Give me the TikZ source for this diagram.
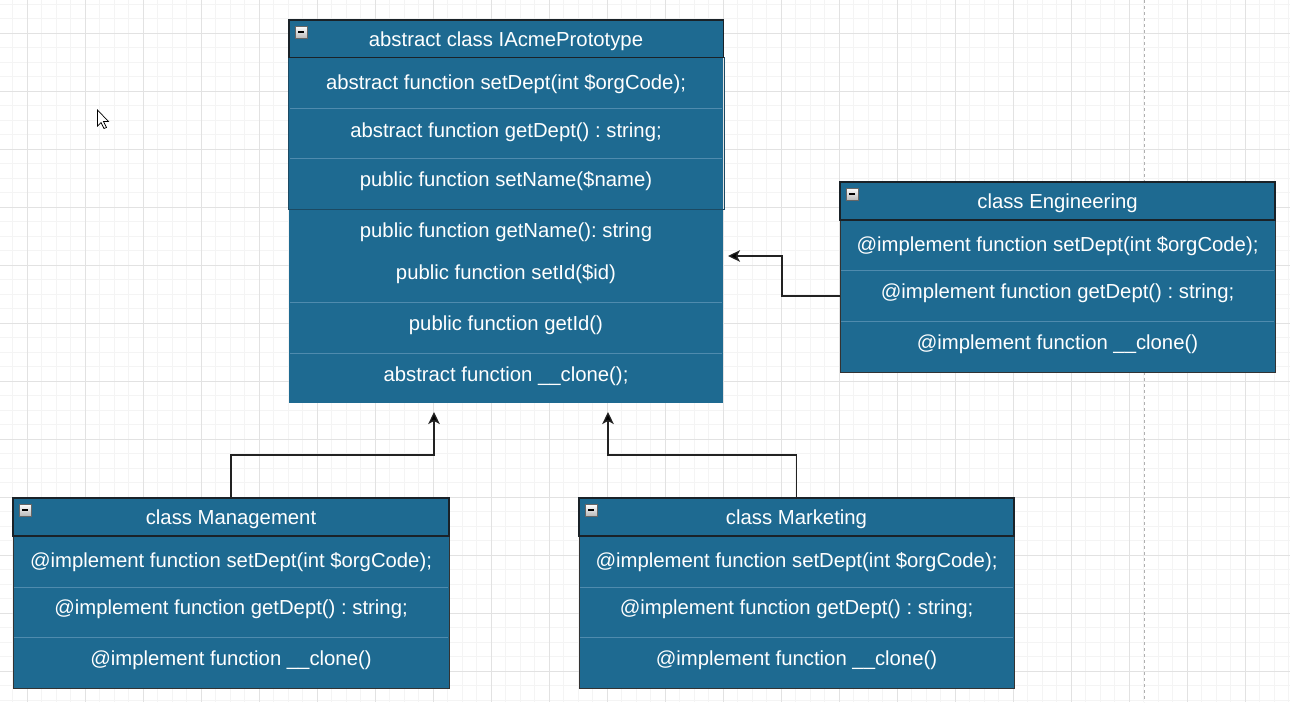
\documentclass[tikz,border=0pt]{standalone}
\usepackage{fontspec}
\setmainfont{Liberation Sans}
\usetikzlibrary{arrows.meta,calc}
\definecolor{boxblue}{HTML}{1E6A91}
\definecolor{seplt}{HTML}{4F8BAE}
\definecolor{hdrstroke}{HTML}{1A2228}
\definecolor{contstroke}{HTML}{1C4A63}
\definecolor{boxstroke}{HTML}{333333}
\definecolor{gridminor}{HTML}{F4F4F4}
\definecolor{gridmajor}{HTML}{E2E2E2}
\definecolor{connc}{HTML}{222222}
\definecolor{dashc}{HTML}{B0B0B0}
\frenchspacing
\begin{document}
\begin{tikzpicture}[x=1pt,y=-1pt,
  classbox/.style={fill=boxblue, anchor=north west, inner sep=0pt, outer sep=0pt},
  classframe/.style={draw=boxstroke, line width=1pt},
  hdrframe/.style={draw=hdrstroke, line width=1.3pt},
  txt/.style={text=white, font=\fontsize{20.3}{24}\selectfont, inner sep=0pt, yshift=-1.5pt},
  sepline/.style={draw=seplt, line width=0.8pt},
  conn/.style={draw=connc, line width=1.3pt, -{Stealth[length=12pt,width=11.5pt,inset=3pt,fill=black]}},
  collapse/.pic={
    \shade[top color=white, bottom color=gray!55, draw=gray!80!black, line width=0.5pt] (0,0) rectangle (12,12);
    \fill[black] (3,5.2) rectangle (9,7.2);
  }
]
\useasboundingbox (0,0) rectangle (1290,702);
\fill[white] (0,0) rectangle (1290,702);
% grid
\foreach \i in {0,...,88} \draw[gridminor, line width=0.8pt] ({12.8+14.5*\i},0) -- ++(0,702);
\foreach \i in {0,...,48} \draw[gridminor, line width=0.8pt] (0,{4.3+14.5*\i}) -- ++(1290,0);
\foreach \i in {0,...,21} \draw[gridmajor, line width=0.9pt] ({27.3+58*\i},0) -- ++(0,702);
\foreach \i in {0,...,11} \draw[gridmajor, line width=0.9pt] (0,{33.3+58*\i}) -- ++(1290,0);
\draw[dashc, line width=1pt, dash pattern=on 3pt off 3pt] (1144.5,0) -- (1144.5,702);

% cursor
\draw[fill=white, draw=black, line width=0.7pt, line join=miter]
  (97.5,110) -- (97.5,126) -- (101,122.5) -- (104,128.5) -- (106.5,127.5) -- (103.5,121.5) -- (108.5,121.5) -- cycle;

% ---------- abstract class IAcmePrototype ----------
\node[classbox, minimum width=434pt, minimum height=383pt] (acme) at (289,20) {};
\draw[contstroke, line width=1pt] (288.5,57) -- (288.5,209) -- (724,209) -- (724,57);
\draw[hdrframe] (289,20) rectangle (723.5,57.5);
\draw[sepline] (290,108) -- (722,108);
\draw[sepline] (290,158) -- (722,158);
\draw[sepline] (290,302) -- (722,302);
\draw[sepline] (290,353) -- (722,353);
\pic at (295,26) {collapse};
\node[txt] (acmeT) at (506,40) {abstract class IAcmePrototype};
\node[txt] (acmeA) at (506,83) {abstract function setDept(int \$orgCode);};
\node[txt] (acmeB) at (506,131) {abstract function getDept() : string;};
\node[txt] (acmeC) at (506,180) {public function setName(\$name)};
\node[txt] (acmeD) at (506,231) {public function getName(): string};
\node[txt] (acmeE) at (506,273) {public function setId(\$id)};
\node[txt] (acmeF) at (506,324) {public function getId()};
\node[txt] (acmeG) at (506,375) {abstract function \_\_clone();};

% ---------- class Engineering ----------
\node[classbox, classframe, minimum width=435pt, minimum height=190pt] (eng) at (840,182) {};
\draw[hdrframe] (840,182) rectangle (1275,220);
\draw[sepline] (841,270) -- (1274,270);
\draw[sepline] (841,321) -- (1274,321);
\pic at (846,188) {collapse};
\node[txt] (engT) at (1057.5,202) {class Engineering};
\node[txt] (engA) at (1057.5,245) {@implement function setDept(int \$orgCode);};
\node[txt] (engB) at (1057.5,292) {@implement function getDept() : string;};
\node[txt] (engC) at (1057.5,343) {@implement function \_\_clone()};

% ---------- class Management ----------
\node[classbox, classframe, minimum width=436pt, minimum height=190pt] (mgmt) at (13,498) {};
\draw[hdrframe] (13,498) rectangle (449,536);
\draw[sepline] (14,587) -- (448,587);
\draw[sepline] (14,637) -- (448,637);
\pic at (19,504) {collapse};
\node[txt] (mgmtT) at (231,518) {class Management};
\node[txt] (mgmtA) at (231,561) {@implement function setDept(int \$orgCode);};
\node[txt] (mgmtB) at (231,608) {@implement function getDept() : string;};
\node[txt] (mgmtC) at (231,659) {@implement function \_\_clone()};

% ---------- class Marketing ----------
\node[classbox, classframe, minimum width=435pt, minimum height=190pt] (mkt) at (579,498) {};
\draw[hdrframe] (579,498) rectangle (1014,536);
\draw[sepline] (580,587) -- (1013,587);
\draw[sepline] (580,637) -- (1013,637);
\pic at (585,504) {collapse};
\node[txt] (mktT) at (796.5,518) {class Marketing};
\node[txt] (mktA) at (796.5,561) {@implement function setDept(int \$orgCode);};
\node[txt] (mktB) at (796.5,608) {@implement function getDept() : string;};
\node[txt] (mktC) at (796.5,659) {@implement function \_\_clone()};

% ---------- connectors ----------
\coordinate (mbend) at (434,455);
\coordinate (kbend) at (608,455);
\coordinate (ebend) at (782,256);
\draw[conn, shorten >=9pt] (mgmt.north) |- (mbend) -- ([xshift=-72pt]acme.south);
\draw[conn, shorten >=9pt] (mkt.north) |- (kbend) -- ([xshift=102pt]acme.south);
\draw[conn, shorten >=5pt] ([yshift=-19pt]eng.west) -| (ebend) -- ([yshift=-44.5pt]acme.east);
\end{tikzpicture}
\end{document}
